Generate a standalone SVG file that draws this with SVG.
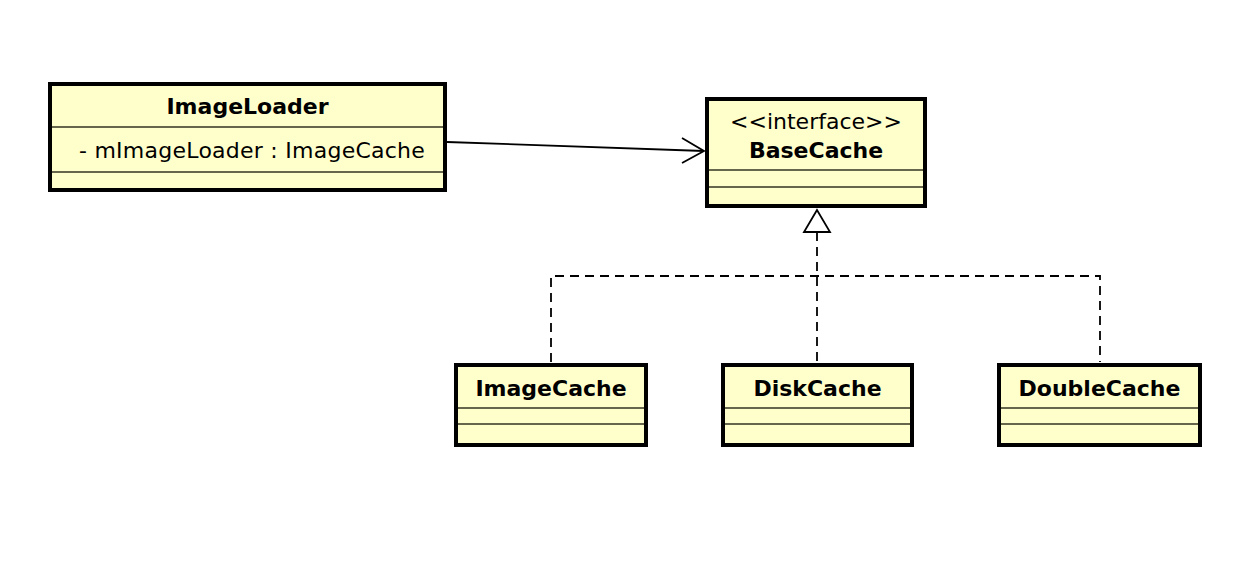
<svg xmlns="http://www.w3.org/2000/svg" width="1246" height="574" viewBox="0 0 1246 574">
<style>
.box{fill:#ffffcc;stroke:#000;stroke-width:4}
.div{stroke:#333322;stroke-width:1.6;fill:none}
.t{font-family:"DejaVu Sans","Liberation Sans",sans-serif;font-size:22px;fill:#000}
.b{font-weight:bold;text-anchor:middle}
.c{text-anchor:middle}
.dash{fill:none;stroke:#000;stroke-width:1.8;stroke-dasharray:9,6}
.line{fill:none;stroke:#000;stroke-width:1.8}
</style>
<rect width="1246" height="574" fill="#fff"/>
<g id="connectors">
  <line class="line" x1="447" y1="142" x2="704" y2="151"/>
  <polyline class="line" points="682,138 704,151 682,163"/>
  <polyline class="dash" points="551,362 551,276 1100,276 1100,362"/>
  <line class="dash" x1="817" y1="232" x2="817" y2="362"/>
  <polygon points="817,210 804,232 830,232" fill="#fff" stroke="#000" stroke-width="1.8"/>
</g>
<g id="ImageLoader">
  <rect class="box" x="50" y="84" width="395" height="106"/>
  <line class="div" x1="52" y1="127" x2="443" y2="127"/>
  <line class="div" x1="52" y1="172" x2="443" y2="172"/>
  <text class="t b" x="247.5" y="114">ImageLoader</text>
  <text class="t" x="79" y="158" letter-spacing="0.25">- mImageLoader : ImageCache</text>
</g>
<g id="BaseCache">
  <rect class="box" x="707" y="99" width="218" height="107"/>
  <line class="div" x1="709" y1="170" x2="923" y2="170"/>
  <line class="div" x1="709" y1="187" x2="923" y2="187"/>
  <text class="t c" x="816" y="129">&lt;&lt;interface&gt;&gt;</text>
  <text class="t b" x="816" y="158">BaseCache</text>
</g>
<g id="ImageCache">
  <rect class="box" x="456" y="365" width="190" height="80"/>
  <line class="div" x1="458" y1="408" x2="644" y2="408"/>
  <line class="div" x1="458" y1="424" x2="644" y2="424"/>
  <text class="t b" x="551" y="396">ImageCache</text>
</g>
<g id="DiskCache">
  <rect class="box" x="723" y="365" width="189" height="80"/>
  <line class="div" x1="725" y1="408" x2="910" y2="408"/>
  <line class="div" x1="725" y1="424" x2="910" y2="424"/>
  <text class="t b" x="817.5" y="396">DiskCache</text>
</g>
<g id="DoubleCache">
  <rect class="box" x="999" y="365" width="201" height="80"/>
  <line class="div" x1="1001" y1="408" x2="1198" y2="408"/>
  <line class="div" x1="1001" y1="424" x2="1198" y2="424"/>
  <text class="t b" x="1099.5" y="396">DoubleCache</text>
</g>
</svg>
